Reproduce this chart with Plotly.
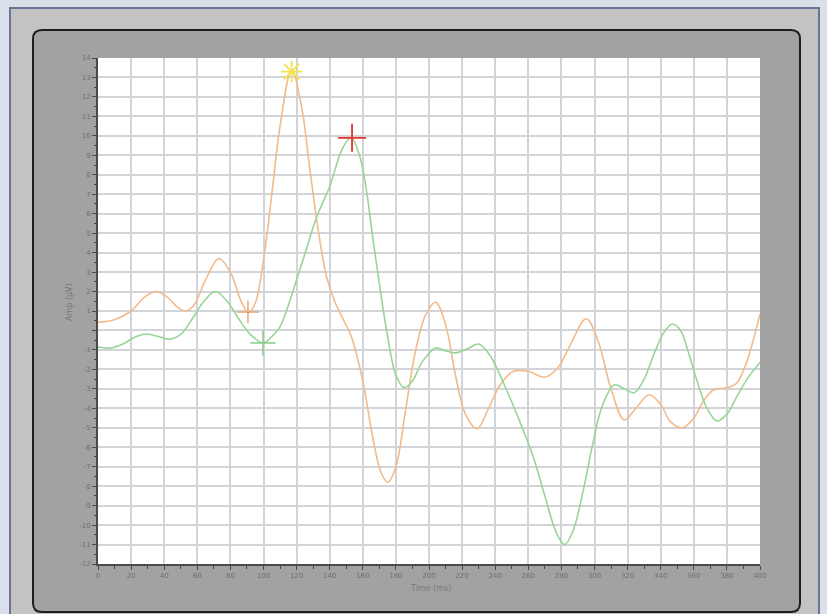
import plotly.graph_objects as go

# ---- data ----
orange_t = [0, 10, 20, 28, 35, 42, 48, 53, 58, 65, 73, 80, 86, 91, 95, 100, 105, 110, 117, 123,
            128, 133, 138, 143, 148, 153, 160, 166, 171, 175, 180, 186, 192, 198, 204, 210, 216,
            222, 229, 236, 243, 251, 260, 270, 278, 285, 295, 302, 310, 318, 325, 333, 340, 346,
            353, 360, 366, 372, 380, 386, 392, 400]
orange_v = [0.42, 0.55, 1.0, 1.7, 2.0, 1.7, 1.2, 1.0, 1.3, 2.6, 3.7, 3.0, 1.6, 0.9, 1.4, 3.6, 7.0, 10.5, 13.4, 11.5,
            8.3, 5.2, 2.8, 1.5, 0.6, -0.3, -2.6, -5.5, -7.3, -7.8, -7.0, -4.0, -1.0, 0.8, 1.45, 0.3, -2.3,
            -4.3, -5.05, -4.0, -2.8, -2.1, -2.1, -2.4, -1.9, -0.8, 0.6, -0.5, -3.0, -4.6, -4.0, -3.3, -3.8, -4.7,
            -5.0, -4.5, -3.6, -3.05, -2.95, -2.7, -1.6, 0.85]

green_t = [0, 8, 15, 22, 29, 36, 43, 50, 57, 64, 71, 78, 85, 92, 100, 104, 110, 115, 120, 126, 132,
           140, 148, 153, 158, 162, 166, 170, 175, 180, 185, 190, 196, 204, 210, 216, 223, 230,
           237, 245, 254, 263, 270, 277, 282, 287, 293, 299, 305, 312, 318, 324, 330, 336, 342,
           347, 352, 357, 362, 368, 374, 380, 386, 393, 400]
green_v = [-0.85, -0.9, -0.7, -0.35, -0.18, -0.3, -0.45, -0.2, 0.6, 1.5, 2.0, 1.5, 0.6, -0.2, -0.65, -0.4, 0.2, 1.3, 2.6, 4.2, 5.8,
           7.4, 9.4, 9.9, 9.0, 7.3, 4.8, 2.4, -0.3, -2.3, -2.95, -2.6, -1.6, -0.9, -1.05, -1.15, -0.95, -0.7,
           -1.3, -2.7, -4.5, -6.5, -8.5, -10.4, -11.0, -10.3, -8.3, -5.8, -3.8, -2.8, -3.0, -3.2, -2.5, -1.2, -0.1,
           0.33, 0.0, -1.2, -2.6, -4.0, -4.65, -4.3, -3.4, -2.4, -1.65]

# markers: (time, amplitude)
orange_mark_t = [90.6]
orange_mark_v = [0.95]
green_mark_t = [99.7]
green_mark_v = [-0.64]
orange_peak_t = [117]
orange_peak_v = [13.3]
green_peak_t = [153.5]
green_peak_v = [9.9]

x_ticks = list(range(0, 401, 20))
y_ticks = list(range(-12, 15))
y_tick_text = [("" if v == 0 else str(v)) for v in y_ticks]

# ---- geometry helpers (pixel -> paper) ----
W, H = 827, 614
L, R, T, B = 98, 760, 58, 564


def px(x):
    return (x - L) / (R - L)


def py(y):
    return (B - y) / (B - T)


def rounded_rect(x0, y0, x1, y1, r):
    rx = r / (R - L)
    ry = r / (B - T)
    X0, X1 = px(x0), px(x1)
    Y0, Y1 = py(y0), py(y1)  # Y0 top, Y1 bottom
    return (f"M {X0+rx},{Y0} L {X1-rx},{Y0} Q {X1},{Y0} {X1},{Y0-ry} "
            f"L {X1},{Y1+ry} Q {X1},{Y1} {X1-rx},{Y1} "
            f"L {X0+rx},{Y1} Q {X0},{Y1} {X0},{Y1+ry} "
            f"L {X0},{Y0-ry} Q {X0},{Y0} {X0+rx},{Y0} Z")


ORANGE = "#F3BA8A"
GREEN = "#98D698"

fig = go.Figure()
fig.add_trace(go.Scatter(x=orange_t, y=orange_v, mode="lines",
                         line=dict(color=ORANGE, width=1.6, shape="spline", smoothing=1.0),
                         hoverinfo="skip", showlegend=False))
fig.add_trace(go.Scatter(x=green_t, y=green_v, mode="lines",
                         line=dict(color=GREEN, width=1.6, shape="spline", smoothing=1.0),
                         hoverinfo="skip", showlegend=False))
fig.add_trace(go.Scatter(x=orange_mark_t, y=orange_mark_v, mode="markers",
                         marker=dict(symbol="cross-thin-open", size=16, color="#E8A878",
                                     line=dict(width=1.5)),
                         showlegend=False))
fig.add_trace(go.Scatter(x=green_mark_t, y=green_mark_v, mode="markers",
                         marker=dict(symbol="cross-thin-open", size=18, color="#86CC86",
                                     line=dict(width=1.5)),
                         showlegend=False))
fig.add_trace(go.Scatter(x=orange_peak_t, y=orange_peak_v, mode="markers",
                         marker=dict(symbol="asterisk-open", size=18, color="#F4E24A",
                                     line=dict(width=1.8)),
                         showlegend=False))
fig.add_trace(go.Scatter(x=green_peak_t, y=green_peak_v, mode="markers",
                         marker=dict(symbol="cross-thin-open", size=20, color="#E83030",
                                     line=dict(width=1.8)),
                         showlegend=False))

shapes = [
    # outer light grey panel with bluish border
    dict(type="rect", xref="paper", yref="paper", layer="below",
         x0=px(10), x1=px(819), y0=py(8), y1=py(620),
         fillcolor="#c3c3c1", line=dict(color="#6c7398", width=2)),
    # dark rounded panel
    dict(type="path", xref="paper", yref="paper", layer="below",
         path=rounded_rect(33, 30, 800, 612, 9),
         fillcolor="#a2a2a2", line=dict(color="#1e1e1e", width=2)),
    # white plot area
    dict(type="rect", xref="paper", yref="paper", layer="below",
         x0=0, x1=1, y0=0, y1=1, fillcolor="white", line=dict(width=0)),
]

annotations = [
    dict(text="Amp (µV)", xref="paper", yref="paper", x=px(69), y=py(302),
         xanchor="center", yanchor="middle",
         textangle=-90, showarrow=False, font=dict(size=8, color="#7a7a7a")),
    dict(text="Time (ms)", xref="paper", yref="paper", x=px(430), y=py(588),
         xanchor="center", yanchor="middle",
         showarrow=False, font=dict(size=8, color="#7a7a7a")),
]

fig.update_layout(
    width=W, height=H, autosize=False,
    margin=dict(l=L, r=W - R, t=T, b=H - B, pad=0),
    paper_bgcolor="#d9e0ea",
    plot_bgcolor="rgba(0,0,0,0)",
    shapes=shapes,
    annotations=annotations,
    font=dict(family="DejaVu Sans", size=7, color="#707070"),
)
fig.update_xaxes(range=[0, 400], tickvals=x_ticks, ticktext=[str(v) for v in x_ticks],
                 showgrid=True, gridcolor="#d3d3da", gridwidth=1.6, zeroline=False,
                 showline=True, linecolor="#4a4a4a", linewidth=2,
                 ticks="outside", ticklen=4, tickcolor="#4a4a4a", tickwidth=1,
                 tickfont=dict(size=7, color="#707070"),
                 minor=dict(dtick=10, tick0=0, ticks="outside", ticklen=3, tickcolor="#4a4a4a", showgrid=False))
fig.update_yaxes(range=[-12, 14], tickvals=y_ticks, ticktext=y_tick_text,
                 showgrid=True, gridcolor="#d3d3da", gridwidth=1.6, zeroline=False,
                 showline=True, linecolor="#4a4a4a", linewidth=2,
                 ticks="outside", ticklen=4, tickcolor="#4a4a4a", tickwidth=1,
                 tickfont=dict(size=7, color="#707070"),
                 minor=dict(dtick=0.5, tick0=0, ticks="outside", ticklen=2, tickcolor="#4a4a4a", showgrid=False))

fig.write_html("out.html",
               config={"displayModeBar": False},
               post_script="document.body.style.margin='0';document.body.style.background='#d9e0ea';")
